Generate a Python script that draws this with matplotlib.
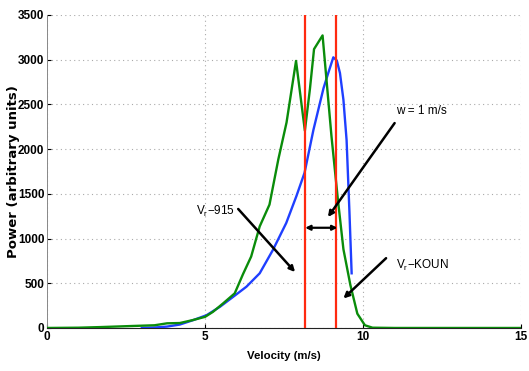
import matplotlib
matplotlib.use("Agg")
import matplotlib.pyplot as plt
import numpy as np

# Green series (V_r - KOUN spectrum, jagged)
green_x = [0.0, 1.0, 1.7, 2.7, 3.4, 3.8, 4.2, 4.6, 5.0, 5.25, 5.57, 5.94, 6.2, 6.46, 6.73,
           7.04, 7.32, 7.58, 7.88, 8.16, 8.32, 8.45, 8.72, 9.0, 9.2, 9.38, 9.6, 9.82,
           10.06, 10.3, 11.0, 15.0]
green_y = [0, 3, 10, 22, 30, 52, 55, 87, 124, 180, 274, 387, 600, 798, 1135,
           1379, 1885, 2297, 2985, 2205, 2672, 3117, 3270, 2150, 1450, 880, 480, 160,
           30, 3, 0, 0]

# Blue series (V_r - 915 spectrum, smooth)
blue_x = [3.0, 3.4, 3.79, 4.2, 4.62, 5.05, 5.47, 5.89, 6.31, 6.73, 7.15, 7.57, 7.89,
          8.15, 8.43, 8.75, 8.9, 9.06, 9.17, 9.27, 9.38, 9.48, 9.57, 9.64]
blue_y = [0, 5, 15, 38, 87, 143, 236, 348, 461, 611, 873, 1173, 1472,
          1735, 2213, 2680, 2850, 3025, 2990, 2850, 2550, 2100, 1300, 611]

# Red vertical markers
red_x = [8.15, 9.15]

xticks = [0, 5, 10, 15]
yticks = list(range(0, 3501, 500))

narrow = ['Liberation Sans Narrow', 'Liberation Sans', 'DejaVu Sans']
plt.rcParams['font.family'] = narrow

fig = plt.figure(figsize=(5.29, 3.71), dpi=100)
ax = fig.add_axes([0.0889, 0.116, 0.896, 0.844])

ax.plot(blue_x, blue_y, color='#1f3fff', lw=1.7, zorder=3)
ax.plot(green_x, green_y, color='#0a8c0a', lw=1.7, zorder=4)
for rx in red_x:
    ax.axvline(rx, color='#ff2a10', lw=1.6, zorder=5)

ax.set_xlim(0, 15)
ax.set_ylim(0, 3500)
ax.set_xticks(xticks)
ax.set_yticks(yticks)
ax.tick_params(direction='in', length=3, width=0.8, labelsize=8.5, pad=2)
for lab in ax.get_xticklabels() + ax.get_yticklabels():
    lab.set_fontweight('bold')
ax.grid(True, linestyle=(0, (1, 3)), color='#aaaaaa', lw=0.8)
ax.spines['top'].set_visible(False)
ax.spines['right'].set_visible(False)
ax.spines['left'].set_color('#888888')
ax.spines['left'].set_linewidth(0.7)
ax.spines['bottom'].set_color('#222222')
ax.spines['bottom'].set_linewidth(0.8)

ax.set_xlabel('Velocity (m/s)', fontsize=8.2, fontweight='bold', labelpad=6)
ax.set_ylabel('Power (arbitrary units)', fontsize=9.5, fontweight='bold',
              family=['DejaVu Sans'])
ax.yaxis.set_label_coords(-0.058, 0.5)

aprops = dict(arrowstyle='-|>', color='black', lw=1.8, mutation_scale=8, shrinkA=0, shrinkB=0)

# w = 1 m/s
ax.annotate('', xy=(8.89, 1240), xytext=(11.0, 2290), arrowprops=aprops, zorder=6)
ax.text(11.05, 2420, 'w = 1 m/s', fontsize=8.5, ha='left', va='center')
# double arrow between red lines
ax.annotate('', xy=(8.17, 1120), xytext=(9.19, 1120),
            arrowprops=dict(arrowstyle='<|-|>', color='black', lw=1.6, mutation_scale=7,
                            shrinkA=0, shrinkB=0), zorder=6)
# V_r - 915
ax.annotate('', xy=(7.85, 625), xytext=(6.05, 1330), arrowprops=aprops, zorder=6)
ax.text(4.7, 1300, r'$\mathregular{V_r}$−915', fontsize=8.5, ha='left', va='center')
# V_r - KOUN
ax.annotate('', xy=(9.38, 330), xytext=(10.73, 780), arrowprops=aprops, zorder=6)
ax.text(11.05, 700, r'$\mathregular{V_r}$−KOUN', fontsize=8.5, ha='left', va='center')

fig.savefig('out.png', dpi=100)
